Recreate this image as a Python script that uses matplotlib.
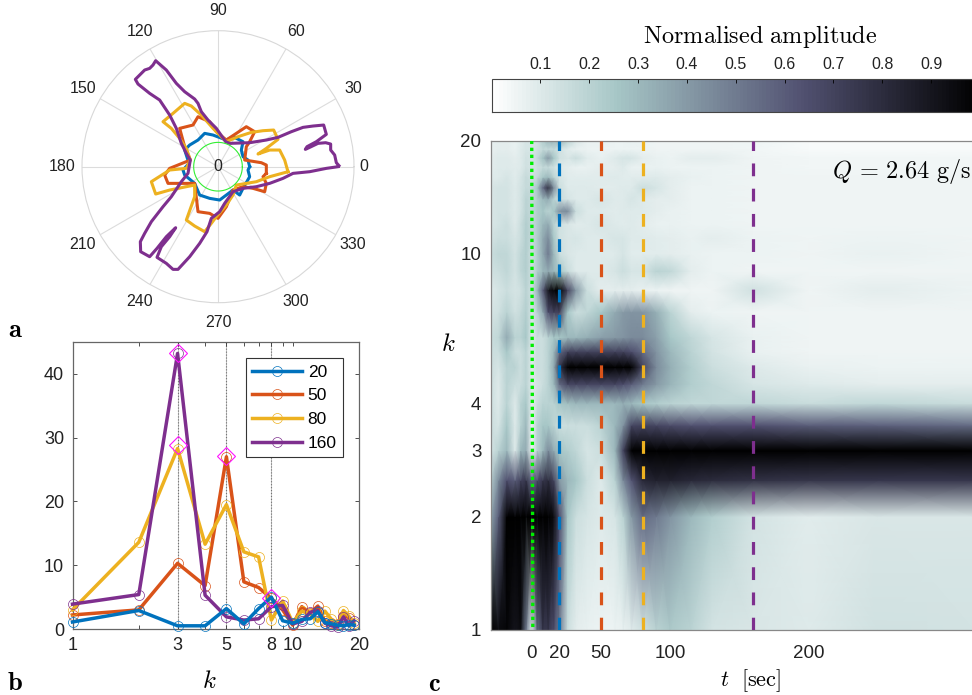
import numpy as np
import matplotlib
matplotlib.use('Agg')
import matplotlib.pyplot as plt
from matplotlib.lines import Line2D

plt.rcParams['font.family'] = ['Liberation Sans', 'DejaVu Sans']
plt.rcParams['mathtext.fontset'] = 'cm'

W, H = 972, 695
BLUE, ORANGE, YELLOW, PURPLE = '#0072BD', '#D95319', '#EDB120', '#7E2F8E'

# ---------- panel a : outlines as (east, north) components of the polar radius ----------
R_MAX = 408
GREEN_R = 73
blue_e = [95,90,75,70,75,45,25,-15,-40,-60,-85,-100,-87,-105,-100,-70,-55,-25,5,45,65,75,95,90,95]
blue_n = [0,20,30,50,75,90,80,95,100,80,65,50,10,-10,-25,-50,-85,-95,-100,-70,-85,-65,-30,-10,0]
orange_e = [145,145,130,80,85,95,110,85,55,25,-5,-25,-60,-75,-115,-100,-83,-145,-160,-150,-70,-60,-25,0,25,45,75,105,140,145,135,145]
orange_n = [-20,5,12,20,60,75,105,120,100,80,105,135,150,125,115,60,20,-5,-25,-50,-50,-135,-140,-155,-120,-70,-60,-65,-75,-50,-30,-20]
yellow_e = [210,200,185,155,120,145,180,167,135,100,60,25,-15,-50,-80,-100,-135,-165,-140,-115,-95,-83,-95,-145,-200,-187,-145,-70,-70,-95,-70,-40,-20,-5,25,45,55,115,155,210]
yellow_n = [-15,20,50,50,38,55,82,110,108,103,90,75,115,155,182,190,160,135,115,85,55,20,-5,-10,-45,-82,-70,-55,-90,-160,-178,-195,-170,-150,-115,-85,-55,-45,-30,-15]
purple_e = [363,355,350,338,338,323,300,275,262,267,295,325,317,285,255,220,180,145,95,35,23,-5,-30,-50,-60,-70,-100,-125,-155,-187,-195,-205,-220,-248,-240,-205,-175,-145,-125,-110,-95,-83,-90,-110,-140,-165,-200,-220,-233,-232,-205,-183,-155,-127,-145,-170,-183,-155,-135,-120,-85,-55,-33,-20,5,20,45,75,115,155,195,225,275,325,360]
purple_n = [3,12,35,50,68,72,70,58,52,60,75,97,125,122,118,105,88,80,72,70,75,115,140,165,190,203,225,250,290,318,305,295,290,262,248,220,200,155,115,70,40,20,-20,-45,-90,-120,-165,-200,-225,-255,-270,-245,-210,-183,-210,-240,-272,-290,-308,-308,-270,-230,-195,-155,-135,-110,-75,-65,-60,-50,-35,-20,-15,-5,0]
theta_labels = list(range(0, 360, 30))

# ---------- panel b : spectra ----------
k_modes = list(range(1, 20))
amp_20 = [1.1,2.9,0.5,0.5,3.2,0.8,3.2,5.0,1.3,0.9,1.5,1.6,2.7,1.0,0.8,0.6,0.5,0.7,0.6]
amp_50 = [2.2,3.0,10.3,6.8,27,7.4,6.5,4.8,3.0,0.6,3.5,2.5,3.6,1.2,1.0,0.8,2.1,1.8,0.7]
amp_80 = [3,13.6,28.3,13.3,19.5,12.1,11.3,1.4,4.4,1.0,2.8,2.3,1.2,2.8,1.5,0.7,2.9,2.0,0.9]
amp_160 = [3.9,5.4,43.2,5.3,1.9,1.4,1.6,3.5,3.7,0.8,1.2,2.6,2.9,0.9,0.5,0.3,1.9,0.5,1.3]
peak_k = [3, 3, 5, 8]
peak_amp = [43.3, 28.8, 27.2, 4.9]
guide_k = [3, 5, 8]
b_xticks = [1, 3, 5, 8, 10, 20]

# ---------- panel c : amplitude map ----------
t_grid = [-30,-24,-18,-12,-8,-4,0,4,8,12,16,20,26,32,40,50,60,66,72,80,90,100,115,130,160,200,250,320]
k_grid = [1,2,2.5,3,3.5,4,4.5,5,5.5,6,7,8,9,10,11,12,13,14,15,16,17,18,19,20]
r1 = [1.0,.95,.97,.9,.95,.5,.1,.55,.75,.75,.65,.5,.15,.08,.07,.06,.06,.07,.09,.14,.2,.24,.2,.13,.11,.1,.14,.13]
r2 = [.35,.6,1,1,1,1,1,1,1,1,.95,.65,.25,.15,.12,.1,.12,.2,.4,.55,.5,.42,.3,.22,.13,.09,.11,.11]
r2h = [.2,.45,.65,.6,.7,.75,.55,.65,.75,.8,.7,.4,.3,.25,.15,.1,.2,.45,.62,.82,.85,.85,.82,.8,.78,.76,.75,.75]
r3 = [.12,.2,.3,.1,.3,.35,.05,.2,.3,.45,.35,.25,.22,.18,.12,.15,.3,.7,1,1,1,1,1,1,1,1,1,1]
r3h = [.15,.12,.25,.1,.2,.3,.05,.2,.25,.25,.2,.15,.15,.15,.15,.2,.3,.42,.68,.7,.68,.66,.64,.64,.64,.6,.58,.55]
r4 = [.15,.1,.2,.1,.2,.25,.08,.15,.2,.2,.2,.25,.28,.3,.3,.3,.3,.33,.3,.25,.22,.2,.18,.18,.18,.16,.18,.16]
r4h = [.15,.1,.2,.15,.15,.2,.1,.12,.15,.2,.3,.55,.68,.68,.68,.68,.68,.65,.6,.5,.4,.32,.22,.18,.12,.1,.08,.08]
r5 = [.15,.12,.2,.2,.15,.2,.1,.15,.15,.2,.35,.75,1,1,1,1,1,1,1,.7,.45,.33,.22,.15,.1,.07,.06,.06]
r5h = [.15,.15,.25,.15,.15,.2,.1,.15,.15,.2,.3,.55,.7,.7,.7,.7,.7,.7,.65,.55,.42,.3,.2,.13,.07,.05,.05,.05]
r6 = [.15,.18,.35,.2,.2,.25,.1,.15,.15,.2,.25,.25,.3,.3,.33,.38,.4,.42,.45,.45,.38,.25,.18,.12,.07,.05,.05,.05]
r7 = [.12,.14,.2,.14,.17,.22,.12,.2,.35,.65,.7,.7,.25,.15,.18,.25,.35,.4,.42,.42,.33,.2,.08,.06,.05,.05,.05,.05]
r8 = [.1,.12,.15,.12,.14,.2,.14,.3,.6,.9,.98,1,.7,.4,.15,.08,.08,.08,.08,.07,.06,.05,.05,.05,.14,.05,.08,.06]
r9 = [.14,.15,.18,.13,.18,.22,.14,.22,.3,.35,.3,.25,.16,.1,.1,.1,.12,.15,.12,.12,.2,.18,.08,.06,.05,.05,.05,.05]
r10 = [.15,.18,.18,.13,.18,.22,.14,.22,.35,.5,.3,.15,.11,.1,.1,.1,.1,.12,.09,.09,.09,.08,.07,.06,.06,.05,.07,.05]
r11 = [.13,.15,.15,.12,.15,.22,.17,.22,.35,.45,.25,.14,.11,.12,.1,.1,.12,.12,.1,.1,.09,.08,.07,.08,.06,.05,.06,.05]
r12 = [.11,.13,.15,.1,.15,.22,.17,.22,.3,.35,.2,.14,.11,.09,.1,.12,.1,.09,.1,.08,.07,.07,.06,.06,.05,.05,.05,.05]
r13 = [.11,.13,.13,.1,.13,.2,.17,.22,.25,.2,.25,.42,.45,.15,.1,.1,.09,.1,.1,.1,.08,.07,.06,.06,.05,.05,.05,.05]
r14 = [.11,.13,.13,.1,.13,.2,.17,.22,.3,.35,.2,.15,.12,.1,.1,.12,.1,.1,.12,.1,.08,.08,.06,.06,.05,.05,.05,.05]
r15 = [.11,.13,.13,.1,.13,.17,.17,.25,.55,.78,.45,.15,.1,.1,.1,.09,.09,.1,.1,.15,.12,.08,.06,.06,.05,.05,.05,.05]
r16 = [.1,.1,.12,.09,.12,.17,.14,.17,.25,.3,.2,.12,.09,.09,.09,.09,.1,.09,.09,.09,.1,.08,.07,.06,.05,.05,.05,.05]
r17 = [.08,.1,.1,.09,.1,.14,.12,.14,.17,.17,.14,.1,.08,.07,.07,.08,.08,.1,.07,.07,.07,.06,.06,.06,.05,.04,.04,.04]
r18 = [.08,.1,.1,.08,.1,.14,.12,.17,.27,.4,.25,.14,.11,.15,.09,.07,.1,.12,.12,.08,.07,.06,.08,.08,.05,.04,.04,.04]
r19 = [.07,.08,.08,.07,.1,.12,.12,.14,.17,.17,.17,.14,.09,.07,.06,.06,.06,.06,.06,.06,.05,.05,.05,.05,.04,.03,.03,.03]
r20 = [.07,.08,.08,.07,.09,.12,.12,.14,.22,.3,.3,.3,.2,.11,.07,.07,.06,.06,.07,.06,.05,.05,.05,.05,.05,.03,.03,.03]
amp_rows = [r1,r2,r2h,r3,r3h,r4,r4h,r5,r5h,r6,r7,r8,r9,r10,r11,r12,r13,r14,r15,r16,r17,r18,r19,r20]
snapshot_t = [20, 50, 80, 160]
c_xticks = [0, 20, 50, 100, 200]
c_yticks = [1, 2, 3, 4, 10, 20]
cb_ticks = [0.1, 0.2, 0.3, 0.4, 0.5, 0.6, 0.7, 0.8, 0.9]


def rect(l, t, r, b):
    return [l / W, 1 - b / H, (r - l) / W, (b - t) / H]


fig = plt.figure(figsize=(W / 100, H / 100), dpi=100)

# ---------- a ----------
axa = fig.add_axes(rect(82, 30.7, 354, 302.7), projection='polar')
for e, n, c in [(blue_e, blue_n, BLUE), (orange_e, orange_n, ORANGE),
                (yellow_e, yellow_n, YELLOW), (purple_e, purple_n, PURPLE)]:
    e, n = np.array(e, float), np.array(n, float)
    axa.plot(np.arctan2(n, e), np.hypot(e, n), color=c, lw=2.2, solid_joinstyle='round')
circ = np.linspace(0, 2 * np.pi, 200)
axa.plot(circ, np.full_like(circ, GREEN_R), color='#33ee33', lw=0.8)
axa.set_ylim(0, R_MAX)
axa.set_yticks([])
axa.set_xticks(np.radians(theta_labels))
axa.set_xticklabels([])
axa.tick_params(axis='x', length=0)
axa.grid(True, color='#dcdcdc', lw=0.8)
axa.spines['polar'].set_color('#d8d8d8')
axa.spines['polar'].set_linewidth(0.8)
for a in theta_labels:
    rr = R_MAX * (146 if a == 0 else 156) / 136
    axa.text(np.radians(a), rr, str(a), ha='center', va='center', fontsize=11.5, color='#222222', clip_on=False)
axa.text(0, 0, '0', ha='center', va='center', fontsize=11.5, color='#222222')

# ---------- b ----------
axb = fig.add_axes(rect(72.5, 342, 359, 629))
for kk in guide_k:
    axb.axvline(kk, color='#444444', lw=0.8, ls=':', zorder=1)
    axb.axvline(kk, color='#999999', lw=0.4, zorder=1)
series = [('20', amp_20, BLUE), ('50', amp_50, ORANGE), ('80', amp_80, YELLOW), ('160', amp_160, PURPLE)]
order = {'20': 6, '50': 3, '80': 4, '160': 5}
handles = []
for name, vals, c in series:
    axb.plot(k_modes, vals, color=c, lw=2.5, marker='o', ms=7.2, mfc='none', mew=0.5,
             zorder=order[name], clip_on=False)
    handles.append(Line2D([], [], color=c, lw=2.5, marker='o', ms=7.2, mfc='none', mew=0.5, label=name))
axb.plot(peak_k, peak_amp, ls='none', marker='D', ms=9, mfc='none', mec='#ff11ff', mew=0.8, zorder=7, clip_on=False)
axb.set_xscale('log')
axb.set_xlim(1, 20)
axb.set_ylim(0, 45)
axb.set_xticks(b_xticks)
axb.set_xticklabels([str(v) for v in b_xticks])
axb.set_xticks([2, 4, 6, 7, 9], minor=True)
axb.set_xticklabels([], minor=True)
axb.set_yticks([0, 10, 20, 30, 40])
axb.tick_params(axis='both', which='both', direction='in', top=True, right=True, length=3, width=0.6, color='#333333')
axb.tick_params(axis='both', which='major', labelsize=13, labelcolor='#222222', pad=6)
for s in axb.spines.values():
    s.set_color('#666666')
    s.set_linewidth(0.9)
leg = fig.legend(handles=handles, loc='upper left', bbox_to_anchor=(245.5 / W, 1 - 358 / H), borderaxespad=0,
                 fontsize=12.5, frameon=True, fancybox=False, framealpha=1, edgecolor='#333333',
                 labelspacing=0.49, handlelength=2.85, handletextpad=0.35, borderpad=0.38)
leg.get_frame().set_linewidth(0.8)
leg.set_zorder(10)
fig.text(209 / W, 1 - 681 / H, r'$k$', fontsize=18, ha='center', va='center')

# ---------- c ----------
axc = fig.add_axes(rect(491, 140.7, 980, 630))
t_left = -29.4
px_per_t = 1.385
mesh = axc.pcolormesh(t_grid, k_grid, np.array(amp_rows), cmap=plt.get_cmap('bone_r', 128), vmin=0, vmax=1,
                      shading='gouraud', rasterized=True)
axc.set_yscale('log')
axc.set_xlim(t_left, t_left + (980 - 491) / px_per_t)
axc.set_ylim(1, 20)
axc.set_xticks(c_xticks)
axc.set_xticklabels([str(v) for v in c_xticks])
axc.set_yticks(c_yticks)
axc.set_yticklabels([str(v) for v in c_yticks])
axc.set_yticks([], minor=True)
axc.tick_params(axis='both', which='both', length=0, labelsize=13.5, labelcolor='#222222')
axc.tick_params(axis='x', pad=11)
axc.tick_params(axis='y', pad=7)
for s in axc.spines.values():
    s.set_color('#888888')
    s.set_linewidth(0.9)
axc.plot([0, 0.8], [20, 1], color='#00ee00', lw=2.4, dashes=(1, 1.1), zorder=4)
for tv, c in zip(snapshot_t, [BLUE, ORANGE, YELLOW, PURPLE]):
    axc.plot([tv, tv], [1, 20], color=c, lw=2.3, dashes=(4.0, 3.9), zorder=4)
fig.text(832 / W, 1 - 171 / H, r'$Q\,=\,2.64\ \mathrm{g/s}$', fontsize=17.5, ha='left', va='center')
fig.text(448 / W, 1 - 344 / H, r'$k$', fontsize=18, ha='center', va='center')
fig.text(751 / W, 1 - 681 / H, r'$t\ \ [\mathrm{sec}]$', fontsize=16, ha='center', va='center')

# ---------- colourbar ----------
cax = fig.add_axes(rect(491.5, 79, 980, 111.7))
cb = fig.colorbar(mesh, cax=cax, orientation='horizontal')
cb.set_ticks(cb_ticks)
cb.set_ticklabels([f'{v:.1f}' for v in cb_ticks])
cax.xaxis.set_ticks_position('top')
cax.tick_params(axis='x', direction='in', length=3, width=0.6, labelsize=11.5, labelcolor='#222222', pad=5)
cb.outline.set_edgecolor('#444444')
cb.outline.set_linewidth(0.8)
fig.text(760 / W, 1 - 37 / H, r'$\mathrm{Normalised\ amplitude}$', fontsize=17.5, ha='center', va='center')

# ---------- panel letters ----------
for ch, x, y in [('a', 15, 330), ('b', 15, 683), ('c', 434, 684)]:
    fig.text(x / W, 1 - y / H, rf'$\mathbf{{{ch}}}$', fontsize=19, ha='center', va='center')

fig.savefig('out.png', dpi=100)
